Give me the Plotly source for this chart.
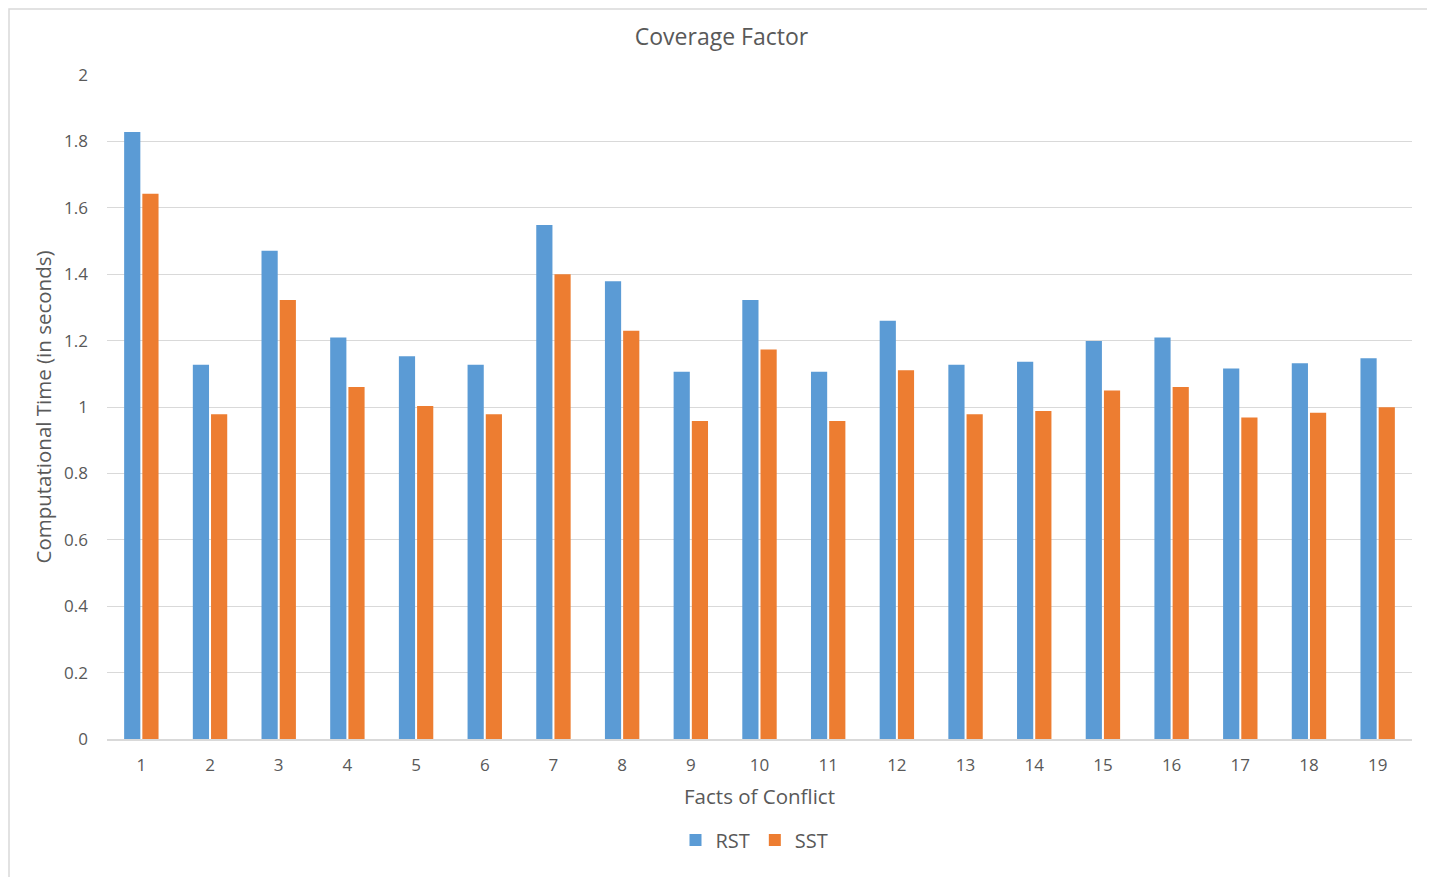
import plotly.graph_objects as go

categories = [str(i) for i in range(1, 20)]
rst = [1.828, 1.127, 1.471, 1.209, 1.153, 1.127, 1.548, 1.379, 1.106, 1.322,
       1.106, 1.260, 1.127, 1.136, 1.199, 1.209, 1.116, 1.132, 1.147]
sst = [1.642, 0.978, 1.322, 1.060, 1.003, 0.978, 1.400, 1.230, 0.958, 1.173,
       0.958, 1.111, 0.978, 0.988, 1.050, 1.060, 0.968, 0.983, 0.999]
y_ticks = [0, 0.2, 0.4, 0.6, 0.8, 1, 1.2, 1.4, 1.6, 1.8, 2]

FONT = "Open Sans"
GREY = "#595959"

# page body has an 8px margin, so the figure is drawn 8px in from the window edge
W, H = 1427, 869

fig = go.Figure()
fig.add_trace(go.Bar(x=categories, y=rst, name="RST", marker_color="#5B9BD5",
                     marker_line_width=0))
fig.add_trace(go.Bar(x=categories, y=sst, name="SST", marker_color="#ED7D31",
                     marker_line_width=0))

fig.update_layout(
    width=W, height=H,
    margin=dict(l=99, r=23, t=67, b=138),
    paper_bgcolor="white", plot_bgcolor="white",
    barmode="group", bargap=0.47, bargroupgap=0.11,
    font=dict(family=FONT, color=GREY, size=17),
    title=dict(text="Coverage Factor", x=0.5, xanchor="center", y=1 - 29 / H,
               yanchor="middle", font=dict(size=23, color=GREY, family=FONT)),
    xaxis=dict(type="category", showgrid=False, showline=True, linecolor="#D9D9D9",
               linewidth=1.5, ticks="", ticklabelstandoff=10,
               tickfont=dict(size=17, color=GREY),
               title=dict(text="Facts of Conflict", font=dict(size=20.5, color=GREY),
                          standoff=14)),
    yaxis=dict(range=[0, 2], tickvals=y_ticks, ticktext=[str(v) for v in y_ticks],
               showgrid=True, gridcolor="#D9D9D9", gridwidth=1.3, zeroline=False,
               ticks="", ticklabelstandoff=18, tickfont=dict(size=17, color=GREY),
               title=dict(text="Computational Time (in seconds)",
                          font=dict(size=20.5, color=GREY), standoff=6)),
    legend=dict(orientation="h", x=0.5 - 5 / 1305, xanchor="center", y=-101 / 664,
                yanchor="middle", font=dict(size=20, color=GREY), itemwidth=30,
                traceorder="normal"),
    shapes=[dict(type="rect", xref="paper", yref="paper",
                 x0=-98 / 1305, x1=1322 / 1305, y0=-0.25, y1=(664 + 66) / 664,
                 line=dict(color="#D9D9D9", width=1.5), fillcolor="rgba(0,0,0,0)",
                 layer="below")],
)

fig.write_html("out.html")
